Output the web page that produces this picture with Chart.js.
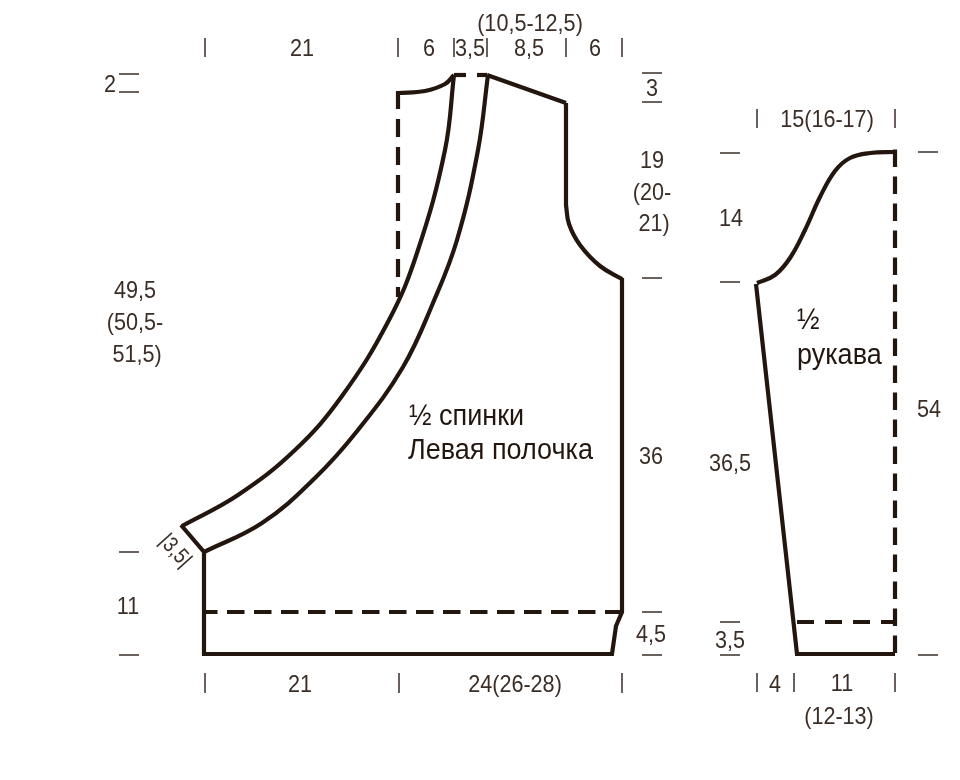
<!DOCTYPE html>
<html><head><meta charset="utf-8">
<style>html,body{margin:0;padding:0;background:#fff}canvas{display:block}</style>
<script src="https://cdn.jsdelivr.net/npm/chart.js@4"></script>
</head><body><canvas id="c" width="960" height="780"></canvas>
<script>
// Pattern outlines
const bandOuterX=[182,238,295,342,389,417,445,454];
const bandOuterY=[526,495,450,396,320,253,150,75];
const bandInnerX=[204,262,315,358,403,433,457,478,488];
const bandInnerY=[552,523,478,430,367,303,240,150,75];
const neckX=[398,425,445,454];
const neckY=[93,91,84,75];
const armholeX=[566,569,580,600,622];
const armholeY=[205,224,245,266,279];
const capX=[757,775,790,805,820,835,850,870,895];
const capY=[283,275,258,230,197,171,158,153,152];
const bodyX=[566,487];
const bodyY=[103,75];
const shoulderDropX=[566,566];
const shoulderDropY=[103,206];
const hemX=[622,622,616,612,204,204,181];
const hemY=[278,612,626,654,654,552,525];
const cuffX=[756,797,895];
const cuffY=[284,654,654];
const neckGapX=[[454,466],[477,487]];
const foldX=[[398,398],[204,622],[895,895],[797,895]];
const foldY=[[91,297],[612,612],[149.5,654],[622,622]];
// Measure ticks
const vTickX=[205,398,454,487,566,622,205,399,622,757,794,895,757,895];
const vTickTop=[38,38,38,38,38,38,673,673,673,673,673,673,109,109];
const vTickBottom=[57,57,57,57,57,57,693,693,693,692,692,692,128,128];
const hTickLeft=[119,119,642,642,642,642,642,720,720,918,918,720,720,119,119];
const hTickRight=[139,139,662,662,662,662,662,740,740,938,938,740,740,139,139];
const hTickY=[74,92,73,102,278,612,655,622,655,655,152,153,282,552,655];
// Text
const labelText=["(10,5-12,5)","21","6","3,5","8,5","6","2","3","19","(20-","21)","49,5","(50,5-","51,5)","15(16-17)","14","54","36","36,5","11","21","24(26-28)","4,5","3,5","4","11","(12-13)"];
const labelX=[530,302,429,470,529,595,110,652,652,652,654,135,135,137,827,731,929,651,730,128,300,515,651,730,775,842,839];
const labelY=[24,49,49,49,49,49,85,89,161,193,224,291,323,355,120,219,410,457,464,607,685,685,635,641,685,684,717];
const titleText=["½ спинки","Левая полочка","½","рукава"];
const titleX=[409,408,797,797];
const titleY=[417,451,321,356];

const INK='#23160f', THIN='#3a2e27';
const pts=(xs,ys)=>xs.map((x,i)=>({x,y:ys[i]}));
const line=(xs,ys,o)=>Object.assign({data:pts(xs,ys),borderColor:INK,borderWidth:4.2,pointRadius:0,showLine:true,fill:false,tension:0,borderCapStyle:'butt',borderJoinStyle:'miter'},o||{});
const datasets=[];
[[bandOuterX,bandOuterY],[bandInnerX,bandInnerY],[neckX,neckY],[armholeX,armholeY],[capX,capY]].forEach(p=>datasets.push(line(p[0],p[1],{tension:0.4})));
datasets.push(line(bodyX,bodyY));
datasets.push(line(shoulderDropX,shoulderDropY));
datasets.push(line(hemX,hemY));
datasets.push(line(cuffX,cuffY));
neckGapX.forEach(g=>datasets.push(line(g,[75,75])));
foldX.forEach((g,i)=>{
  const dash=[[18,10],[17.5,9.5],[17.5,9.5],[17,11]][i];
  const off=[0,4,0,0][i];
  datasets.push(line(g,foldY[i],{borderDash:dash,borderDashOffset:off}));
});
vTickX.forEach((x,i)=>datasets.push(line([x,x],[vTickTop[i],vTickBottom[i]],{borderWidth:1.5,borderColor:THIN})));
hTickY.forEach((y,i)=>datasets.push(line([hTickLeft[i],hTickRight[i]],[y,y],{borderWidth:1.5,borderColor:THIN})));

const FONT='"Liberation Sans"';
function put(c,t,x,y,sx){c.save();c.translate(x,y);c.scale(sx,1);c.fillText(t,0,0);c.restore();}
const textPlugin={id:'text',afterDatasetsDraw(chart){
  const c=chart.ctx,sx=chart.scales.x,sy=chart.scales.y;
  c.save();
  c.textBaseline='middle';c.fillStyle=THIN;c.textAlign='center';
  c.font='24px '+FONT;
  labelText.forEach((t,i)=>put(c,t,sx.getPixelForValue(labelX[i]),sy.getPixelForValue(labelY[i]),0.9));
  c.save();
  c.translate(sx.getPixelForValue(175),sy.getPixelForValue(551));
  c.rotate(48*Math.PI/180);
  c.font='22px '+FONT;
  put(c,'|3,5|',0,0,0.85);
  c.restore();
  c.textAlign='left';c.fillStyle=INK;
  c.font='30px '+FONT;
  titleText.forEach((t,i)=>put(c,t,sx.getPixelForValue(titleX[i]),sy.getPixelForValue(titleY[i]),0.9));
  c.restore();
}};
new Chart(document.getElementById('c'),{type:'scatter',data:{datasets},plugins:[textPlugin],options:{
  responsive:false,animation:false,devicePixelRatio:1,layout:{padding:0},
  plugins:{legend:{display:false},tooltip:{enabled:false},title:{display:false}},
  scales:{x:{type:'linear',display:false,min:0,max:960},y:{type:'linear',display:false,min:0,max:780,reverse:true}}
}});
</script></body></html>
